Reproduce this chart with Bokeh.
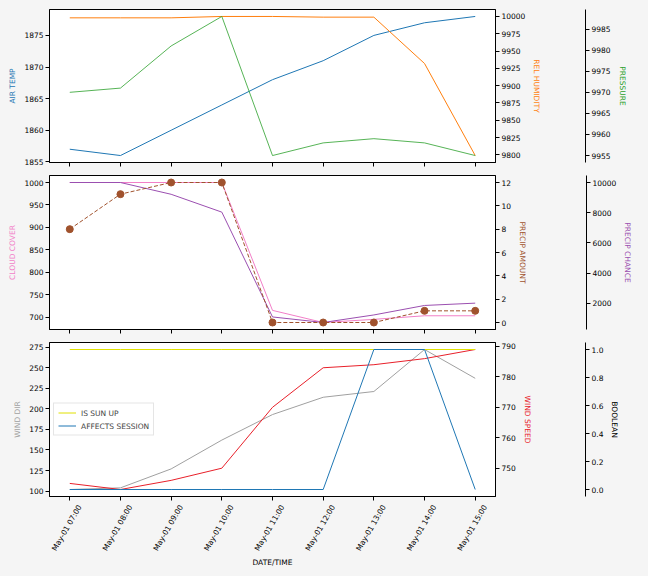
import math
import pandas as pd
from bokeh.plotting import figure
from bokeh.models import (Range1d, LinearAxis, DatetimeAxis, FixedTicker, SingleIntervalTicker,
                          DatetimeTickFormatter, NumeralTickFormatter, Legend, LegendItem)
from bokeh.layouts import column
from bokeh.embed import file_html
from bokeh.resources import INLINE

# ---------------- data ----------------
times = ["2023-05-01 07:00", "2023-05-01 08:00", "2023-05-01 09:00", "2023-05-01 10:00",
         "2023-05-01 11:00", "2023-05-01 12:00", "2023-05-01 13:00", "2023-05-01 14:00",
         "2023-05-01 15:00"]
air_temp = [1857, 1856, 1860, 1864, 1868, 1871, 1875, 1877, 1878]
rel_humidity = [9998, 9998, 9998, 10000, 10000, 9999, 9999, 9932, 9799]
pressure = [9970, 9971, 9981, 9988, 9955, 9958, 9959, 9958, 9955]
cloud_cover = [1000, 1000, 1000, 1000, 715, 688, 695, 703, 703]
precip_amount = [8, 11, 12, 12, 0, 0, 0, 1, 1]
precip_chance = [10000, 10000, 9220, 8040, 1107, 740, 1240, 1867, 2020]
wind_dir = [102, 104, 127, 162, 193, 214, 221, 272, 237]
wind_speed = [745, 743, 746, 750, 770, 783, 784, 786, 789]
is_sun_up = [1, 1, 1, 1, 1, 1, 1, 1, 1]
affects_session = [0, 0, 0, 0, 0, 0, 1, 1, 0]

# ---------------- style ----------------
FONT = "DejaVu Sans"
FS = "7.5px"
BG = "#f5f5f5"
C_TEMP = "#1f77b4"
C_HUM = "#ff7f0e"
C_PRES = "#2ca02c"
C_CLOUD = "#f27fc8"
C_PAMT = "#a0522d"
C_PCH = "#9b4fb0"
C_WDIR = "#a0a0a0"
C_WSPD = "#e8202a"
C_SUN = "#e0e000"
C_AFF = "#1f77b4"

x = pd.to_datetime(times)
x_ms = [t.value / 1e6 for t in x]
pad = 0.05 * (x_ms[-1] - x_ms[0])
xr = Range1d(start=x_ms[0] - pad, end=x_ms[-1] + pad)
# label range: shifted so rotated labels sit centred on their ticks (like matplotlib)
frame_w = 446
shift = 10 * (xr.end - xr.start) / frame_w
xlab = Range1d(start=xr.start - shift, end=xr.end - shift)


def prange(vals):
    lo, hi = min(vals), max(vals)
    s = hi - lo
    return Range1d(start=lo - 0.05 * s, end=hi + 0.05 * s)


def style_axis(ax, label, color):
    if label:
        ax.axis_label = label
    ax.axis_label_text_color = color
    ax.axis_label_text_font = FONT
    ax.axis_label_text_font_size = FS
    ax.axis_label_text_font_style = "normal"
    ax.axis_label_standoff = 4
    ax.major_label_text_font = FONT
    ax.major_label_text_font_size = FS
    ax.major_label_text_color = "black"
    ax.major_label_standoff = 2
    ax.major_tick_out = 4
    ax.major_tick_in = 0
    ax.minor_tick_line_color = None
    ax.axis_line_color = "black"
    ax.major_tick_line_color = "black"


def spacer(p, rname, w, yr):
    # blank gap between the first and the offset right axis
    mid = (yr.start + yr.end) / 2
    ax = LinearAxis(y_range_name=rname, ticker=FixedTicker(ticks=[mid]),
                    axis_line_color=None, major_tick_line_color=BG,
                    minor_tick_line_color=None, major_tick_out=w, major_tick_in=0,
                    minor_tick_out=0, minor_tick_in=0, major_label_standoff=0,
                    major_label_text_color=None)
    p.add_layout(ax, "right")


def make_fig(height, top, bottom, yr):
    p = figure(width=640, height=height, x_range=xr, y_range=yr,
               output_backend="svg", toolbar_location=None,
               min_border_left=49, min_border_right=145,
               min_border_top=top, min_border_bottom=bottom,
               background_fill_color="white", border_fill_color=BG,
               outline_line_color="black", outline_line_width=1)
    p.grid.visible = False
    p.xaxis.ticker = FixedTicker(ticks=x_ms)
    style_axis(p.xaxis[0], "", "black")
    p.xaxis.major_label_text_color = None
    p.xaxis.major_label_standoff = 0
    return p


# ---------------- panel 1 ----------------
p1 = make_fig(170, 9, 8, prange(air_temp))
p1.extra_y_ranges = {"hum": prange(rel_humidity), "pres": prange(pressure)}
p1.yaxis.ticker = SingleIntervalTicker(interval=5)
style_axis(p1.yaxis[0], "AIR TEMP", C_TEMP)
a = LinearAxis(y_range_name="hum", ticker=SingleIntervalTicker(interval=25))
style_axis(a, "REL HUMIDITY", C_HUM)
p1.add_layout(a, "right")
spacer(p1, "hum", 41, p1.extra_y_ranges["hum"])
a = LinearAxis(y_range_name="pres", ticker=SingleIntervalTicker(interval=5))
style_axis(a, "PRESSURE", C_PRES)
p1.add_layout(a, "right")
p1.line(x_ms, air_temp, color=C_TEMP, line_width=1)
p1.line(x_ms, rel_humidity, color=C_HUM, line_width=1, y_range_name="hum")
p1.line(x_ms, pressure, color=C_PRES, line_width=1, y_range_name="pres", line_alpha=0.8)

# ---------------- panel 2 ----------------
p2 = make_fig(167, 5, 8, prange(cloud_cover))
p2.extra_y_ranges = {"amt": prange(precip_amount), "ch": prange(precip_chance)}
p2.yaxis.ticker = SingleIntervalTicker(interval=50)
style_axis(p2.yaxis[0], "CLOUD COVER", C_CLOUD)
a = LinearAxis(y_range_name="amt", ticker=SingleIntervalTicker(interval=2))
style_axis(a, "PRECIP AMOUNT", C_PAMT)
p2.add_layout(a, "right")
spacer(p2, "amt", 56, p2.extra_y_ranges["amt"])
a = LinearAxis(y_range_name="ch", ticker=SingleIntervalTicker(interval=2000))
style_axis(a, "PRECIP CHANCE", C_PCH)
p2.add_layout(a, "right")
p2.line(x_ms, cloud_cover, color=C_CLOUD, line_width=1)
p2.line(x_ms, precip_chance, color=C_PCH, line_width=1, y_range_name="ch")
p2.line(x_ms, precip_amount, color=C_PAMT, line_width=1, line_dash="4 2",
        y_range_name="amt")
p2.scatter(x_ms, precip_amount, color=C_PAMT, size=7, y_range_name="amt")

# ---------------- panel 3 ----------------
p3 = make_fig(232, 5, 73, prange(wind_dir))
p3.extra_y_ranges = {"spd": prange(wind_speed), "bool": prange([0, 1])}
p3.extra_x_ranges = {"lab": xlab}
p3.yaxis.ticker = SingleIntervalTicker(interval=25)
style_axis(p3.yaxis[0], "WIND DIR", C_WDIR)
a = LinearAxis(y_range_name="spd", ticker=SingleIntervalTicker(interval=10))
style_axis(a, "WIND SPEED", C_WSPD)
p3.add_layout(a, "right")
spacer(p3, "spd", 51, p3.extra_y_ranges["spd"])
a = LinearAxis(y_range_name="bool", ticker=SingleIntervalTicker(interval=0.2),
               formatter=NumeralTickFormatter(format="0.0"))
style_axis(a, "BOOLEAN", "black")
p3.add_layout(a, "right")

fmt = "%b-%d %H:%M"
lab_axis = DatetimeAxis(x_range_name="lab", ticker=FixedTicker(ticks=x_ms))
style_axis(lab_axis, "DATE/TIME", "black")
lab_axis.formatter = DatetimeTickFormatter(hours=fmt, hourmin=fmt, minutes=fmt,
                                           days=fmt, minsec=fmt)
lab_axis.major_label_orientation = math.pi / 3
lab_axis.axis_line_color = None
lab_axis.major_tick_line_color = None
lab_axis.major_tick_out = 0
lab_axis.major_label_standoff = 5
lab_axis.axis_label_standoff = 0
p3.add_layout(lab_axis, "below")

p3.line(x_ms, wind_dir, color=C_WDIR, line_width=1)
p3.line(x_ms, wind_speed, color=C_WSPD, line_width=1, y_range_name="spd")
r_sun = p3.line(x_ms, is_sun_up, color=C_SUN, line_width=1, y_range_name="bool")
r_aff = p3.line(x_ms, affects_session, color=C_AFF, line_width=1, y_range_name="bool")

legend = Legend(items=[LegendItem(label="IS SUN UP", renderers=[r_sun]),
                       LegendItem(label="AFFECTS SESSION", renderers=[r_aff])],
                location="left", label_text_font=FONT, label_text_font_size=FS,
                glyph_width=18, glyph_height=10, label_height=10, spacing=3,
                padding=4, margin=4, label_standoff=5,
                border_line_color="#cccccc", background_fill_alpha=0.8)
p3.add_layout(legend)

layout = column(p1, p2, p3, spacing=0)
html = file_html(layout, INLINE)
html = html.replace("</head>", "<style>body{background:#f5f5f5;}</style></head>", 1)
open("out.html", "w").write(html)
